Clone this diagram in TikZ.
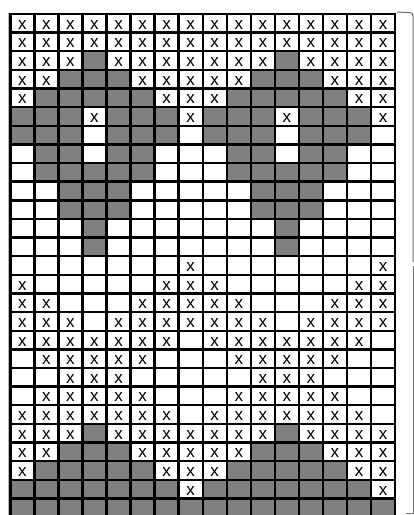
\documentclass[tikz,border=0pt]{standalone}
\usepackage{fontspec}
\setmainfont{Liberation Sans}
\usepackage{xcolor}
\definecolor{cellgray}{RGB}{128,128,128}
\definecolor{bracegray}{RGB}{110,110,110}
\begin{document}
\begin{tikzpicture}[x=1pt, y=-1pt,
    fillx/.style={fill=white},
    fillw/.style={fill=white},
    fillg/.style={fill=cellgray},
    xmark/.style={anchor=base, inner sep=0pt, font=\fontsize{17}{17}\selectfont},
    gridline/.style={line width=2.4pt, black},
    braceline/.style={line width=1pt, bracegray}
  ]
  \useasboundingbox (0,0) rectangle (414,515);
  \begin{scope}
    \clip (0,0) rectangle (414,515);
    \foreach \cells [count=\r] in {
        {x,x,x,x,x,x,x,x,x,x,x,x,x,x,x,x},
        {x,x,x,x,x,x,x,x,x,x,x,x,x,x,x,x},
        {x,x,x,g,x,x,x,x,x,x,x,g,x,x,x,x},
        {x,x,g,g,g,x,x,x,x,x,g,g,g,x,x,x},
        {x,g,g,g,g,g,x,x,x,g,g,g,g,g,x,x},
        {g,g,g,x,g,g,g,x,g,g,g,x,g,g,g,x},
        {g,g,g,w,g,g,g,w,g,g,g,w,g,g,g,w},
        {w,g,g,w,g,g,w,w,w,g,g,w,g,g,w,w},
        {w,g,g,g,g,g,w,w,w,g,g,g,g,g,w,w},
        {w,w,g,g,g,w,w,w,w,w,g,g,g,w,w,w},
        {w,w,g,g,g,w,w,w,w,w,g,g,g,w,w,w},
        {w,w,w,g,w,w,w,w,w,w,w,g,w,w,w,w},
        {w,w,w,g,w,w,w,w,w,w,w,g,w,w,w,w},
        {w,w,w,w,w,w,w,x,w,w,w,w,w,w,w,x},
        {x,w,w,w,w,w,x,x,x,w,w,w,w,w,x,x},
        {x,x,w,w,w,x,x,x,x,x,w,w,w,x,x,x},
        {x,x,x,w,x,x,x,x,x,x,x,w,x,x,x,x},
        {x,x,x,x,x,x,x,w,x,x,x,x,x,x,x,w},
        {w,x,x,x,x,x,w,w,w,x,x,x,x,x,w,w},
        {w,w,x,x,x,w,w,w,w,w,x,x,x,w,w,w},
        {w,x,x,x,x,x,w,w,w,x,x,x,x,x,w,w},
        {x,x,x,x,x,x,x,w,x,x,x,x,x,x,x,w},
        {x,x,x,g,x,x,x,x,x,x,x,g,x,x,x,x},
        {x,x,g,g,g,x,x,x,x,x,g,g,g,x,x,x},
        {x,g,g,g,g,g,x,x,x,g,g,g,g,g,x,x},
        {g,g,g,g,g,g,g,x,g,g,g,g,g,g,g,x},
        {g,g,g,g,g,g,g,g,g,g,g,g,g,g,g,g}}{
      \foreach \code [count=\c] in \cells {
        \pgfmathsetmacro\cx{10.3+(\c-1)*24.05}
        \pgfmathsetmacro\cy{14+(\r-1)*18.63}
        \path[fill\code] (\cx,\cy) rectangle ++(24.05,18.63);
        \ifnum\strcmp{\code}{x}=0
          \node[xmark] (cell-\r-\c) at (\cx+12.03,\cy+15.3) {x};
        \fi
      }
    }
    \foreach \c in {0,...,16}
      \draw[gridline] (10.3+\c*24.05,12.8) -- (10.3+\c*24.05,530);
    \foreach \r in {0,...,27}
      \draw[gridline] (9.1,14+\r*18.63) -- (395.3,14+\r*18.63);
    \draw[line width=1pt, gray!55] (8.4,13) -- (8.4,515);
  \end{scope}
  \draw[braceline] (397,12) -- (409.5,12.6) .. controls (412.4,12.9) .. (413,16) -- (413,262);
  \draw[braceline] (413,266) -- (413,513) -- (406,513);
\end{tikzpicture}
\end{document}
